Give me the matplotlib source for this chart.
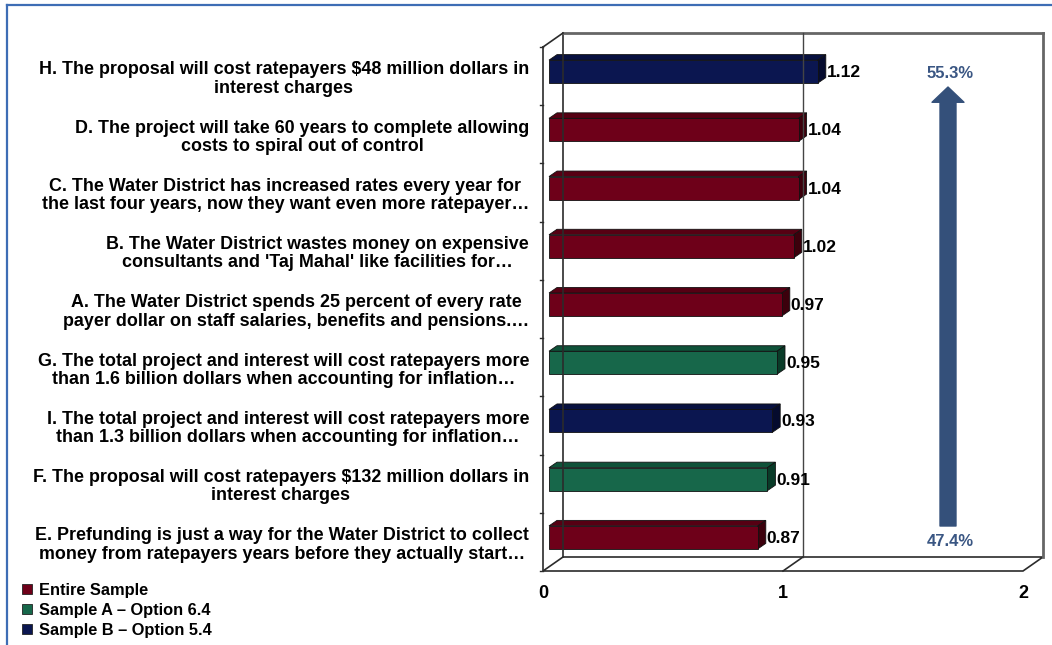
import matplotlib.pyplot as plt
import matplotlib.patches as mpatches
from matplotlib.lines import Line2D

plt.rcParams['font.family'] = ['Liberation Sans', 'DejaVu Sans']
plt.rcParams['font.weight'] = 'bold'

# Data (top to bottom)
labels = [
    "H. The proposal will cost ratepayers $48 million dollars in\ninterest charges",
    "D. The project will take 60 years to complete allowing\ncosts to spiral out of control",
    "C. The Water District has increased rates every year for\nthe last four years, now they want even more ratepayer…",
    "B. The Water District wastes money on expensive\nconsultants and 'Taj Mahal' like facilities for…",
    "A. The Water District spends 25 percent of every rate\npayer dollar on staff salaries, benefits and pensions.…",
    "G. The total project and interest will cost ratepayers more\nthan 1.6 billion dollars when accounting for inflation…",
    "I. The total project and interest will cost ratepayers more\nthan 1.3 billion dollars when accounting for inflation…",
    "F. The proposal will cost ratepayers $132 million dollars in\ninterest charges",
    "E. Prefunding is just a way for the Water District to collect\nmoney from ratepayers years before they actually start…",
]
values = [1.12, 1.04, 1.04, 1.02, 0.97, 0.95, 0.93, 0.91, 0.87]
groups = ["B", "E", "E", "E", "E", "A", "B", "A", "E"]
group_names = {"E": "Entire Sample", "A": "Sample A – Option 6.4", "B": "Sample B – Option 5.4"}
top_pct, bottom_pct = "55.3%", "47.4%"

# face colours: front, top, side
colors = {
    "E": ("#6E0019", "#560013", "#3C000C"),
    "A": ("#17674A", "#0F5239", "#093B28"),
    "B": ("#0B1650", "#081140", "#050B2E"),
}

W, H = 1052, 645
fig = plt.figure(figsize=(W / 100, H / 100), dpi=100)

# front plane of the 3D plot in pixels
x_l, x_r, y_t, y_b = 543, 1023, 47, 571
ax = fig.add_axes([x_l / W, 1 - y_b / H, (x_r - x_l) / W, (y_b - y_t) / H])
n = len(values)
ax.set_xlim(0, 2)
ax.set_ylim(n - 0.5, -0.5)
ax.axis('off')

kx = 2 / (x_r - x_l)
ky = n / (y_b - y_t)


def sh(x, y, dx, dy):
    # shift a data point by dx px right and dy px up
    return x + dx * kx, y - dy * ky


WX, WY = 20, 14  # wall depth
lc = '#2b2b2b'
top_y, bot_y = -0.5, n - 0.5


def line(p, q, **kw):
    kw.setdefault('color', lc)
    kw.setdefault('lw', 1.2)
    ax.add_line(Line2D([p[0], q[0]], [p[1], q[1]], clip_on=False, **kw))


# floor
floor = mpatches.Polygon([(0, bot_y), (2, bot_y), sh(2, bot_y, WX, WY), sh(0, bot_y, WX, WY)],
                         closed=True, facecolor='white', edgecolor=lc, lw=1.2, clip_on=False)
ax.add_patch(floor)
# back wall
line(sh(0, top_y, WX, WY), sh(0, bot_y, WX, WY))
line(sh(0, top_y, WX, WY), sh(2, top_y, WX, WY), color='#666666', lw=2)
line(sh(2, top_y, WX, WY), sh(2, bot_y, WX, WY), color='#666666', lw=2)
line(sh(1, top_y, WX, WY), sh(1, bot_y, WX, WY), color='#444444', lw=1)
line((1, bot_y), sh(1, bot_y, WX, WY))
# left front wall edge
line((0, top_y), (0, bot_y))
line((0, top_y), sh(0, top_y, WX, WY))
for k in range(n + 1):
    line((0, k - 0.5), sh(0, k - 0.5, -3, 0), lw=1)

# bars
BX, BY = 6, 4.5   # front face offset
DX, DY = 8, 5.5   # bar depth
bh = 23 * ky
for i, (v, g) in enumerate(zip(values, groups)):
    front, topc, side = colors[g]
    x0, yc = sh(0, i, BX, BY)
    y_top, y_bot = yc - bh / 2, yc + bh / 2
    x1 = x0 + v
    ax.add_patch(mpatches.Polygon([(x0, y_top), (x1, y_top), sh(x1, y_top, DX, DY), sh(x0, y_top, DX, DY)],
                                  facecolor=topc, edgecolor='#111111', lw=0.6, clip_on=False))
    ax.add_patch(mpatches.Polygon([(x1, y_top), (x1, y_bot), sh(x1, y_bot, DX, DY), sh(x1, y_top, DX, DY)],
                                  facecolor=side, edgecolor='#111111', lw=0.6, clip_on=False))
    ax.add_patch(mpatches.Rectangle((x0, y_top), v, bh, facecolor=front,
                                    edgecolor='#111111', lw=0.6, clip_on=False))
    lx, ly = sh(x1, yc, DX + 1, -1)
    ax.text(lx, ly, f"{v:.2f}", ha='left', va='center', fontsize=12.5, fontweight='bold', color='black')
    # category label
    tx, ty = sh(0, i, -14, -3)
    ax.text(tx, ty, labels[i], ha='right', va='center', multialignment='center',
            fontsize=12.9, fontweight='bold', color='black', linespacing=1.1)

# x tick labels
for t in [0, 1, 2]:
    ax.text(t, bot_y + 22 * ky, str(t), ha='center', va='center', fontsize=13, fontweight='bold')

# arrow and percentages
pct_col = '#3A5683'
ax_x = 948 / W
arr = mpatches.FancyArrowPatch((ax_x, 1 - 526 / H), (ax_x, 1 - 87 / H), transform=fig.transFigure,
                               arrowstyle='simple,head_length=1.1,head_width=2.3,tail_width=1.15',
                               mutation_scale=10, color='#34507A', shrinkA=0, shrinkB=0)
fig.patches.append(arr)
fig.text(ax_x + 2 / W, 1 - 73 / H, top_pct, ha='center', va='center', fontsize=12, fontweight='bold', color=pct_col)
fig.text(ax_x + 2 / W, 1 - 542 / H, bottom_pct, ha='center', va='center', fontsize=12, fontweight='bold', color=pct_col)

# legend
handles = [mpatches.Patch(facecolor=colors[g][0], edgecolor='#222222', lw=0.6) for g in ["E", "A", "B"]]
fig.legend(handles, [group_names[g] for g in ["E", "A", "B"]], loc='upper left',
           bbox_to_anchor=(22 / W, 1 - 583 / H), frameon=False, handlelength=0.6, handleheight=0.6,
           handletextpad=0.45, labelspacing=0.3, borderpad=0, borderaxespad=0,
           prop={'size': 11.8, 'weight': 'bold'})

# outer border (left and top visible)
fig.add_artist(Line2D([7 / W, 7 / W], [0, 1 - 5 / H], transform=fig.transFigure, color='#3E6DB5', lw=1.6))
fig.add_artist(Line2D([7 / W, 1], [1 - 5 / H, 1 - 5 / H], transform=fig.transFigure, color='#3E6DB5', lw=1.6))

fig.savefig('out.png', dpi=100, facecolor='white')
